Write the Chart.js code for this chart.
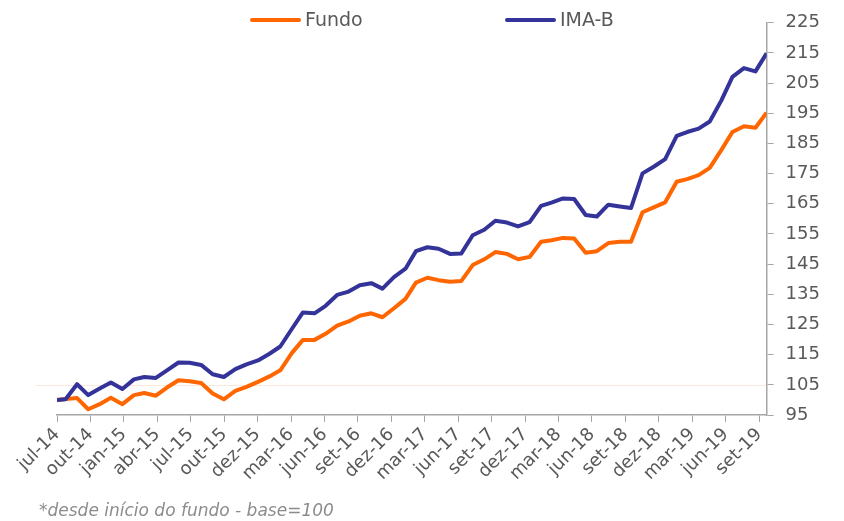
<!DOCTYPE html>
<html><head><meta charset="utf-8">
<script src="https://cdn.jsdelivr.net/npm/chart.js@4.4.1/dist/chart.umd.min.js"></script>
<style>html,body{margin:0;padding:0;background:#fff;}canvas{display:block;}</style>
</head><body>
<canvas id="c" width="844" height="521"></canvas>
<script>
// ---- data ----
const dates = [
 '2014-07-08','2014-07-31','2014-08-31','2014-09-30','2014-10-31','2014-11-30','2014-12-31',
 '2015-01-31','2015-02-28','2015-03-31','2015-04-30','2015-05-31','2015-06-30','2015-07-31','2015-08-31','2015-09-30','2015-10-31','2015-11-30','2015-12-31',
 '2016-01-31','2016-02-29','2016-03-31','2016-04-30','2016-05-31','2016-06-30','2016-07-31','2016-08-31','2016-09-30','2016-10-31','2016-11-30','2016-12-31',
 '2017-01-31','2017-02-28','2017-03-31','2017-04-30','2017-05-31','2017-06-30','2017-07-31','2017-08-31','2017-09-30','2017-10-31','2017-11-30','2017-12-31',
 '2018-01-31','2018-02-28','2018-03-31','2018-04-30','2018-05-31','2018-06-30','2018-07-31','2018-08-31','2018-09-30','2018-10-31','2018-11-30','2018-12-31',
 '2019-01-31','2019-02-28','2019-03-31','2019-04-30','2019-05-31','2019-06-30','2019-07-31','2019-08-31','2019-09-30'
];
const fundo = [
 100.0,100.3,100.6,96.9,98.6,100.7,98.6,
 101.6,102.3,101.4,104.1,106.5,106.2,105.6,102.1,100.2,103.0,104.3,106.0,
 107.8,109.8,115.5,119.9,119.9,121.9,124.6,126.0,127.9,128.7,127.4,130.4,
 133.5,138.9,140.5,139.7,139.2,139.4,144.7,146.6,149.0,148.4,146.6,147.4,
 152.4,152.9,153.7,153.5,148.8,149.3,152.0,152.4,152.4,162.2,163.8,165.5,
 172.3,173.2,174.5,176.9,182.8,188.8,190.7,190.2,195.2
];
const imab = [
 100.0,100.2,105.2,101.6,103.8,105.8,103.6,
 106.8,107.6,107.3,109.8,112.4,112.3,111.6,108.5,107.6,110.2,111.8,113.1,
 115.3,117.7,123.5,129.0,128.7,131.2,134.8,135.9,138.0,138.7,136.9,140.7,
 143.5,149.3,150.6,150.1,148.4,148.5,154.6,156.4,159.4,158.8,157.5,158.9,
 164.3,165.4,166.8,166.6,161.3,160.8,164.7,164.1,163.6,175.1,177.3,179.8,
 187.5,188.8,189.9,192.3,199.2,207.1,210.0,208.9,214.9
];
const tickLabels = ['jul-14','out-14','jan-15','abr-15','jul-15','out-15','dez-15','mar-16','jun-16','set-16','dez-16',
 'mar-17','jun-17','set-17','dez-17','mar-18','jun-18','set-18','dez-18','mar-19','jun-19','set-19'];
const seriesNames = ['Fundo','IMA-B'];
const refLineValue = 105;
const yMin = 95, yMax = 225, yStep = 10;
const tickEveryDays = 90;
const footnote = '*desde início do fundo - base=100';

// ---- helpers ----
const DAY = 86400000;
function toDay(s){const p=s.split('-').map(Number);return Date.UTC(p[0],p[1]-1,p[2])/DAY;}
const d0 = toDay(dates[0]);
const xs = dates.map(s=>toDay(s)-d0);
const pts = arr => arr.map((v,i)=>({x:xs[i],y:v}));

const FONT = "'DejaVu Sans', Verdana, sans-serif";
const TXT = '#595959';
const AX = '#a6a6a6';
const ORANGE = '#ff6600';
const BLUE = '#333399';

const refLine = {
  id:'refLine',
  beforeDatasetsDraw(chart){
    const {ctx, chartArea, scales} = chart;
    const y = Math.round(scales.y.getPixelForValue(refLineValue)) + 0.5;
    ctx.save();
    ctx.strokeStyle = 'rgba(248,170,120,0.28)';
    ctx.lineWidth = 1;
    ctx.beginPath(); ctx.moveTo(36, y); ctx.lineTo(chartArea.right, y); ctx.stroke();
    ctx.restore();
  }
};
const legendAndNote = {
  id:'legendAndNote',
  afterDraw(chart){
    const ctx = chart.ctx;
    const xs0 = [250, 505];
    ctx.save();
    chart.data.datasets.forEach((ds,i)=>{
      const x = xs0[i], y = 20;
      ctx.strokeStyle = ds.borderColor; ctx.lineWidth = 4; ctx.lineCap='round';
      ctx.beginPath(); ctx.moveTo(x+2,y); ctx.lineTo(x+49,y); ctx.stroke();
      ctx.fillStyle = TXT; ctx.font = '19px '+FONT; ctx.textBaseline='middle'; ctx.textAlign='left';
      ctx.fillText(ds.label, x+55, y+1);
    });
    ctx.fillStyle = '#8c8c8c'; ctx.font = 'italic 17px '+FONT; ctx.textBaseline='middle';
    ctx.fillText(footnote, 39, 512);
    ctx.restore();
  }
};

new Chart(document.getElementById('c'), {
  type:'line',
  data:{datasets:[
    {label:seriesNames[0], data:pts(fundo), borderColor:ORANGE, backgroundColor:ORANGE, borderWidth:4, pointRadius:0, tension:0, borderJoinStyle:'round', order:1},
    {label:seriesNames[1], data:pts(imab), borderColor:BLUE, backgroundColor:BLUE, borderWidth:4, pointRadius:0, tension:0, borderJoinStyle:'round', order:0}
  ]},
  options:{
    responsive:false, animation:false, devicePixelRatio:1,
    layout:{padding:{left:57, top:20, right:0, bottom:0}},
    plugins:{legend:{display:false}, tooltip:{enabled:false}, title:{display:false}},
    scales:{
      x:{type:'linear', min:0, max:xs[xs.length-1],
        afterBuildTicks(s){ s.ticks = tickLabels.map((_,i)=>({value:i*tickEveryDays})); },
        afterFit(s){ s.height = 106; },
        grid:{display:true, drawOnChartArea:false, drawTicks:true, tickLength:7, color:AX, tickColor:AX},
        border:{display:true, color:AX, width:1.5},
        ticks:{autoSkip:false, minRotation:45, maxRotation:45, color:TXT, font:{family:FONT, size:18}, padding:2,
          callback:(v,i)=>tickLabels[i]}
      },
      y:{position:'right', min:yMin, max:yMax,
        afterBuildTicks(s){ const t=[]; for(let v=yMin; v<=yMax; v+=yStep) t.push({value:v}); s.ticks=t; },
        afterFit(s){ s.width = 844 - 766.6; },
        grid:{display:true, drawOnChartArea:false, drawTicks:true, tickLength:7, color:AX, tickColor:AX},
        border:{display:true, color:AX, width:1.5},
        ticks:{color:TXT, font:{family:FONT, size:18}, padding:12}
      }
    }
  },
  plugins:[refLine, legendAndNote]
});
</script>
</body></html>
